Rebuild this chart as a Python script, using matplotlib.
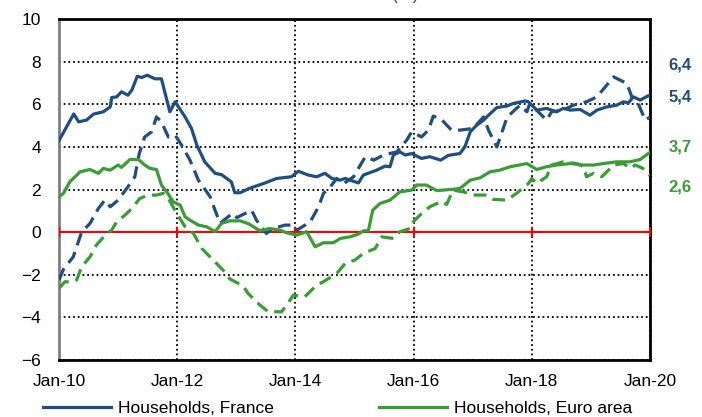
import matplotlib.pyplot as plt

plt.rcParams['font.family'] = ['Liberation Sans', 'DejaVu Sans']

# months since Jan-10 and growth rates (%)
fr_m = [0, 3, 4, 5.6, 7, 9, 10.4, 10.7, 11.7, 12.7, 14, 14.8, 15.9, 16.8, 17.9, 19.5, 20.8,
        22.5, 23.6, 25.6, 26.9, 28, 29.6, 31.7, 33, 35, 35.7, 36.8, 38.6, 41.5, 44.2, 47.2,
        48.6, 50.6, 52.3, 54, 55.4, 57.1, 58.1, 60.8, 61.8, 64.5, 66.2, 67.2, 67.9, 69.2,
        70.3, 71.6, 73.6, 75.3, 77.5, 79, 81.4, 82.4, 83.5, 84.8, 86.2, 87.2, 88.9, 90.9,
        92.2, 94.6, 95.3, 97, 99, 101, 102.4, 103.8, 105.8, 107.8, 109.2, 111.2, 113.2,
        114.6, 115.6, 116.6, 118, 120]
fr_v = [4.3, 5.55, 5.18, 5.26, 5.54, 5.65, 5.88, 6.32, 6.35, 6.59, 6.43, 6.67, 7.32, 7.26,
        7.37, 7.2, 7.2, 5.65, 6.12, 5.41, 4.87, 4.08, 3.3, 2.76, 2.7, 2.36, 1.85, 1.85, 2.05,
        2.28, 2.52, 2.6, 2.86, 2.68, 2.6, 2.76, 2.52, 2.44, 2.52, 2.31, 2.68, 2.91, 3.1, 3.07,
        3.62, 3.77, 3.62, 3.69, 3.46, 3.54, 3.38, 3.6, 3.69, 4.0, 4.71, 5.02, 5.26, 5.49,
        5.85, 5.92, 6.04, 6.16, 6.12, 5.73, 5.81, 5.65, 5.81, 5.73, 5.76, 5.49, 5.73, 5.88,
        5.96, 6.12, 6.07, 6.35, 6.2, 6.45]

frd_m = [0, 0.9, 2.9, 4.6, 6.3, 8, 9.3, 10.4, 12, 14, 15.4, 16.3, 17.4, 18.8, 19.8, 20.8,
         22.2, 23.6, 24.9, 26.6, 28.3, 30.7, 31.3, 32.7, 35.2, 36.1, 39.1, 40.1, 42.1, 43.5,
         45.9, 47.6, 48.3, 51, 52.7, 53.7, 55.1, 56.4, 57.8, 59.8, 61.2, 62.2, 63.9, 65.9,
         68.6, 70.6, 71.6, 73.6, 75, 76, 77.6, 79.7, 81.4, 84.1, 86.2, 87.2, 88.9, 91, 93.6,
         95, 95.6, 99, 100, 102.4, 104.4, 107.1, 109.2, 111.2, 112.6, 115.3, 116.3, 117.6,
         118.3, 119, 120]
frd_v = [-2.25, -1.75, -1.16, 0.0, 0.41, 1.11, 1.5, 1.19, 1.5, 2.13, 2.6, 3.69, 4.47, 4.71,
         5.41, 5.18, 4.47, 4.55, 4.08, 3.38, 2.44, 1.66, 1.27, 0.41, 0.88, 0.68, 1.03, 0.56,
         -0.06, 0.17, 0.33, 0.33, 0.09, 0.48, 1.19, 1.82, 2.13, 2.52, 2.28, 2.6, 3.15, 3.54,
         3.38, 3.62, 3.77, 4.32, 4.71, 4.47, 4.79, 5.45, 5.3, 4.79, 4.79, 4.87, 5.41, 4.79,
         4.0, 5.41, 5.96, 5.65, 6.04, 5.26, 5.65, 5.73, 5.96, 6.12, 6.35, 6.9, 7.29, 6.98,
         6.35, 6.04, 5.65, 5.26, 5.4]

ea_m = [0, 0.9, 2.2, 4.3, 6.3, 8, 9, 10.4, 12, 12.7, 14.4, 16.1, 17.4, 18.5, 19.8, 20.8,
        21.9, 23.2, 24.6, 25.6, 26.6, 28.3, 30, 31.7, 33, 34.7, 36.8, 38.6, 40.8, 42.8, 44.9,
        46.2, 48.3, 50.3, 52, 53.7, 55.7, 57.1, 59.1, 60.8, 61.8, 62.8, 63.7, 65.2, 67.2,
        69.2, 71.6, 72.6, 74.6, 76.7, 79.4, 81.4, 83.5, 85.5, 87.5, 89.5, 91.6, 95, 97, 99,
        101, 103.8, 106.5, 108.5, 110.5, 113.2, 115.9, 118, 120]
ea_v = [1.66, 1.82, 2.36, 2.83, 2.94, 2.76, 2.99, 2.91, 3.15, 3.04, 3.41, 3.41, 3.15, 2.99,
        2.94, 2.21, 1.89, 1.42, 1.27, 0.72, 0.56, 0.33, 0.25, 0.02, 0.41, 0.53, 0.53, 0.38,
        0.06, 0.17, 0.09, -0.03, -0.14, 0.02, -0.69, -0.5, -0.5, -0.3, -0.22, -0.09, 0.06,
        0.06, 1.03, 1.35, 1.5, 1.89, 1.97, 2.21, 2.21, 1.95, 2.0, 2.05, 2.44, 2.55, 2.83,
        2.91, 3.07, 3.22, 2.94, 3.07, 3.15, 3.22, 3.15, 3.15, 3.22, 3.3, 3.3, 3.41, 3.75]

ead_m = [0, 1.2, 2.5, 3.6, 4.6, 6.3, 7.6, 9.7, 10.7, 11.7, 13.4, 14.8, 16.4, 18.1, 19.8, 21.2,
         22.2, 23.9, 25.6, 27.3, 29, 31.3, 33.3, 34.7, 37.4, 38.4, 40.8, 42.5, 45.2, 46.2,
         47.6, 49.9, 52.3, 53.7, 56.4, 58.1, 60.1, 61.8, 64.2, 65.5, 67.9, 69.2, 71.3, 71.6,
         73.3, 75.3, 77.7, 78.7, 80, 82.1, 84.1, 86.5, 88.1, 90.9, 92.9, 95.3, 96, 97, 99, 100,
         102.4, 105.1, 106.5, 107.1, 108.5, 110.2, 112.6, 114.6, 116, 117, 118.5, 120]
ead_v = [-2.64, -2.33, -2.35, -2.25, -1.63, -1.16, -0.61, -0.06, 0.09, 0.48, 0.8, 1.11, 1.58,
         1.74, 1.74, 1.82, 1.58, 0.88, 0.25, -0.06, -0.77, -1.31, -1.78, -2.2, -2.53, -2.88,
         -3.43, -3.74, -3.74, -3.43, -2.96, -3.04, -2.49, -2.33, -1.94, -1.47, -1.31, -1.0,
         -0.77, -0.22, -0.3, 0.02, 0.17, 0.41, 0.8, 1.19, 1.45, 1.3, 1.97, 1.89, 1.74, 1.74,
         1.54, 1.5, 1.82, 2.28, 2.52, 2.28, 2.6, 3.15, 3.3, 3.22, 3.07, 2.6, 2.76, 2.6, 3.15,
         3.22, 2.99, 3.15, 3.0, 2.65]

tick_m = [0, 24, 48, 72, 96, 120]
tick_labels = ['Jan-10', 'Jan-12', 'Jan-14', 'Jan-16', 'Jan-18', 'Jan-20']
end_labels = ['6,4', '5,4', '3,7', '2,6']

blue = '#1F4E80'
green = '#3A9C35'

fig = plt.figure(figsize=(7.02, 4.17), dpi=100)
ax = fig.add_axes([0.084, 0.137, 0.842, 0.817])

ax.plot(fr_m, fr_v, color=blue, lw=2.3, label='Households, France', zorder=4)
ax.plot(frd_m, frd_v, color=blue, lw=2.3, dashes=(4, 2.2), zorder=4)
ax.plot(ea_m, ea_v, color=green, lw=2.3, label='Households, Euro area', zorder=4)
ax.plot(ead_m, ead_v, color=green, lw=2.3, dashes=(4, 2.2), zorder=4)

# zero line with small ticks
ax.axhline(0, color='red', lw=1.5, zorder=3)
ax.plot(tick_m, [0] * len(tick_m), ls='none', marker='|', ms=7, mew=1.5, color='red', zorder=3)

ax.set_xlim(0, 120)
ax.set_ylim(-6, 10)
ax.set_yticks(range(-6, 11, 2))
ax.set_xticks(tick_m)
ax.set_xticklabels(tick_labels)
ax.tick_params(length=0, labelsize=12.5)
ax.tick_params(axis='y', pad=13)
ax.tick_params(axis='x', pad=10)
ax.grid(True, color='black', ls=(0, (1, 1.6)), lw=1.3, zorder=1)

ax.spines['left'].set_color('#808080')
ax.spines['left'].set_linewidth(2)
for s in ['top', 'right', 'bottom']:
    ax.spines[s].set_color('black')
    ax.spines[s].set_linewidth(2)

# title, cut at the top edge as in the source
fig.text(0.506, 0.992, 'Growth rates (%)', ha='center', va='bottom', fontsize=12,
         color='#404040')

# end values
fig.text(0.969, 0.844, end_labels[0], ha='center', va='center', fontsize=12,
         fontweight='bold', color=blue)
fig.text(0.969, 0.768, end_labels[1], ha='center', va='center', fontsize=12,
         fontweight='bold', color=blue)
fig.text(0.969, 0.648, end_labels[2], ha='center', va='center', fontsize=12,
         fontweight='bold', color=green)
fig.text(0.969, 0.552, end_labels[3], ha='center', va='center', fontsize=12,
         fontweight='bold', color=green)

fig.legend(loc='center', bbox_to_anchor=(0.481, 0.02), ncol=2, frameon=False,
           fontsize=12.5, handlelength=3.9, columnspacing=6.1, handletextpad=0.4)

plt.savefig('out.png', dpi=100)
